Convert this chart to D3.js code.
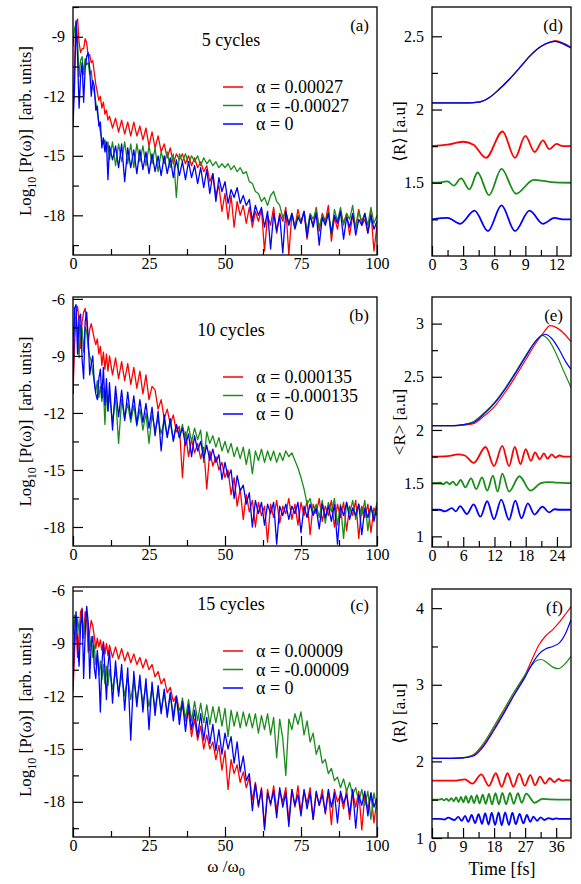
<!DOCTYPE html>
<html>
<head>
<meta charset="utf-8">
<script src="https://cdn.jsdelivr.net/npm/d3@7"></script>
<style>
  body { margin: 0; background: #fff; }
  svg text { font-family: "Liberation Serif", "Times New Roman", Tinos, "DejaVu Serif", serif; fill: #000; }
</style>
</head>
<body>
<div id="chart"></div>
<script>
// ---------- data ----------
// spectra are sampled at 0..12 (step 0.5) then 13..100 (step 1)
const omegaGrid = d3.range(0, 12.5, 0.5).concat(d3.range(13, 101, 1));

// (a) 5 cycles
const specA_red = [
  -13.0,-10.5,-8.3,-8.1,-9.3,-9.8,-9.6,-9.6,-9.1,-9.3,-10.0,-9.9,-10.3,-10.2,-10.8,-11.4,-11.8,-12.2,-12.0,-12.6,-12.3,-12.9,-12.7,-13.2,-13.0,
  -13.6,-13.1,-13.8,-13.2,-13.9,-13.3,-14.0,-13.3,-14.0,-13.5,
  -14.2,-13.6,-14.5,-13.8,-14.6,-14.0,-14.8,-14.4,-15.1,-14.6,
  -15.4,-14.9,-15.2,-14.9,-15.4,-15.0,-15.5,-15.1,-15.6,-15.3,
  -15.8,-15.5,-16.3,-15.9,-17.0,-16.5,-17.8,-16.9,-18.2,-17.0,
  -18.6,-17.3,-18.0,-17.5,-18.4,-17.6,-18.6,-17.8,-18.3,-17.7,
  -19.8,-18.0,-18.5,-17.6,-18.9,-17.9,-18.3,-17.6,-20.0,-17.9,
  -18.6,-17.7,-18.4,-17.8,-19.2,-18.0,-18.5,-17.6,-18.8,-17.9,
  -18.3,-17.5,-19.3,-18.1,-18.7,-17.8,-18.4,-17.9,-19.0,-18.0,
  -18.6,-17.7,-18.5,-18.2,-18.9,-17.8,-19.8,-18.5
];
const specA_green = [
  -9.5,-8.6,-8.3,-9.2,-11.0,-10.2,-10.0,-10.9,-10.1,-10.4,-10.3,-10.9,-10.7,-11.5,-11.8,-12.3,-12.8,-13.3,-13.8,-14.2,-14.4,-14.2,-14.8,-14.3,-15.2,
  -14.3,-15.5,-14.4,-15.3,-14.3,-15.4,-14.4,-15.6,-14.4,-15.3,
  -14.5,-15.5,-14.5,-15.4,-14.6,-15.8,-14.8,-15.4,-14.8,-15.6,
  -14.9,-17.1,-14.9,-15.3,-14.9,-15.4,-15.0,-15.3,-15.0,-15.5,
  -15.1,-15.4,-15.2,-15.5,-15.3,-15.6,-15.4,-15.6,-15.4,-15.7,
  -15.5,-15.8,-15.6,-15.9,-15.8,-16.3,-16.4,-16.8,-16.9,-17.3,
  -17.1,-17.5,-17.0,-16.8,-17.3,-17.5,-18.1,-17.8,-18.4,-17.9,
  -18.6,-18.0,-18.3,-17.8,-18.8,-17.9,-18.2,-17.7,-18.6,-18.0,
  -18.4,-17.8,-19.0,-17.7,-18.3,-17.6,-18.5,-17.9,-18.2,-17.5,
  -18.7,-17.8,-18.3,-17.9,-18.5,-17.6,-18.4,-18.0
];
const specA_blue = [
  -13.5,-11.5,-8.2,-10.0,-12.6,-11.0,-10.3,-12.3,-10.6,-10.0,-9.8,-10.6,-12.0,-11.2,-11.5,-12.7,-12.5,-13.5,-13.3,-14.6,-14.1,-14.8,-14.3,-16.2,-14.5,
  -15.2,-14.5,-15.6,-14.4,-16.3,-14.6,-15.6,-14.7,-15.9,-14.7,
  -15.7,-14.8,-15.9,-14.9,-15.8,-15.0,-16.0,-15.0,-15.9,-15.1,
  -16.1,-15.2,-16.0,-15.3,-16.2,-15.3,-16.1,-15.5,-16.4,-15.6,
  -16.6,-15.7,-16.9,-15.9,-17.3,-16.1,-16.8,-16.3,-17.4,-16.7,
  -17.1,-16.6,-17.4,-17.0,-17.5,-17.2,-18.3,-17.5,-18.0,-17.6,
  -18.6,-17.8,-19.7,-17.9,-18.8,-18.0,-19.9,-17.8,-18.5,-17.9,
  -18.7,-18.1,-18.4,-17.8,-19.1,-18.0,-18.6,-17.9,-19.5,-18.1,
  -18.5,-17.9,-18.9,-18.0,-18.4,-17.8,-19.2,-18.1,-18.6,-17.9,
  -19.0,-18.2,-18.5,-17.9,-18.9,-18.0,-18.7,-18.3
];

// (b) 10 cycles
const specB_red = [
  -11.0,-8.5,-6.8,-6.4,-7.2,-8.6,-7.2,-6.7,-6.5,-7.2,-8.3,-7.6,-7.3,-7.7,-8.1,-8.4,-8.1,-8.9,-8.5,-9.5,-8.8,-9.7,-8.9,-9.8,-9.0,
  -10.0,-9.1,-10.2,-9.3,-10.3,-9.4,-10.5,-9.6,-10.7,-9.8,
  -11.0,-10.0,-11.3,-10.6,-10.8,-11.8,-11.3,-12.3,-11.8,-12.6,
  -12.1,-13.0,-12.7,-15.4,-13.0,-14.3,-13.4,-14.1,-13.6,-14.4,
  -13.8,-16.0,-14.0,-14.8,-14.3,-15.0,-14.6,-15.4,-15.0,-16.3,
  -15.4,-16.9,-16.0,-17.6,-16.3,-17.2,-16.6,-18.0,-16.7,-17.4,
  -16.9,-18.8,-16.8,-17.5,-16.6,-17.8,-16.9,-17.3,-16.5,-17.6,
  -16.8,-17.9,-16.7,-17.4,-16.6,-18.4,-16.8,-17.3,-16.5,-17.7,
  -16.9,-17.4,-16.6,-18.0,-16.8,-17.5,-16.7,-18.2,-16.9,-17.4,
  -16.6,-18.6,-16.9,-17.5,-16.8,-18.3,-17.0,-17.4
];
const specB_green = [
  -8.0,-7.3,-6.9,-7.8,-9.1,-7.4,-7.6,-8.8,-7.5,-7.7,-8.6,-9.0,-9.3,-9.9,-10.3,-10.9,-10.3,-11.2,-10.6,-11.4,-10.7,-12.6,-10.8,-11.9,-11.0,
  -12.5,-11.1,-13.6,-11.3,-12.3,-11.5,-12.5,-11.6,-12.7,-11.8,
  -12.9,-12.0,-13.6,-12.1,-12.9,-12.3,-13.1,-12.4,-13.2,-12.5,
  -13.4,-12.6,-13.3,-12.6,-13.4,-12.7,-13.5,-12.8,-13.4,-12.9,
  -14.6,-13.0,-13.6,-13.2,-13.8,-13.3,-14.0,-13.5,-14.1,-13.6,
  -14.3,-13.8,-14.4,-13.8,-14.7,-13.9,-15.2,-14.0,-14.5,-13.9,
  -14.6,-14.0,-14.5,-14.0,-14.6,-14.1,-14.5,-14.0,-14.3,-14.1,
  -14.5,-14.9,-15.4,-16.0,-16.8,-16.5,-17.3,-16.8,-17.5,-16.6,
  -17.8,-16.7,-17.2,-16.5,-17.9,-16.8,-18.6,-16.7,-17.3,-16.6,
  -17.6,-16.8,-17.4,-16.6,-18.2,-16.9,-17.5,-16.7
];
const specB_blue = [
  -11.0,-6.5,-6.3,-8.9,-7.0,-6.8,-9.2,-10.2,-7.2,-6.7,-8.1,-10.0,-9.4,-9.0,-10.4,-11.0,-11.3,-10.2,-9.7,-11.2,-9.6,-11.6,-10.2,-11.9,-10.4,
  -12.9,-10.6,-12.2,-10.8,-12.4,-10.9,-12.3,-11.1,-12.6,-11.3,
  -12.5,-11.5,-12.8,-11.7,-13.2,-11.9,-14.0,-12.1,-13.3,-12.3,
  -13.5,-12.6,-13.3,-12.8,-13.7,-13.1,-14.3,-13.2,-14.0,-13.5,
  -14.4,-13.7,-14.5,-13.9,-14.6,-14.2,-15.5,-14.6,-15.4,-15.0,
  -16.5,-15.3,-16.1,-15.8,-16.8,-16.2,-18.0,-16.6,-17.3,-16.7,
  -17.9,-16.8,-17.3,-16.7,-18.9,-16.9,-17.4,-16.8,-17.6,-16.9,
  -17.3,-16.7,-18.3,-16.9,-17.5,-16.8,-17.4,-17.0,-18.1,-16.8,
  -17.5,-16.9,-17.7,-16.8,-18.9,-16.9,-17.4,-16.7,-17.6,-17.0,
  -17.4,-16.8,-18.4,-17.0,-17.5,-16.9,-17.7,-16.9
];

// (c) 15 cycles
const specC_red = [
  -11.8,-9.5,-8.0,-9.8,-8.5,-7.2,-7.0,-8.7,-7.2,-7.6,-9.5,-8.3,-7.7,-8.0,-8.6,-9.3,-8.7,-9.2,-8.8,-9.4,-8.9,-9.6,-9.0,-9.7,-9.1,
  -9.8,-9.2,-9.9,-9.3,-10.0,-9.5,-10.1,-9.6,-10.2,-9.8,
  -10.4,-9.9,-10.5,-10.2,-10.9,-10.6,-11.3,-11.0,-11.8,-11.5,
  -12.3,-12.0,-12.8,-12.5,-13.4,-12.9,-14.3,-13.3,-14.5,-13.7,
  -15.0,-14.2,-15.0,-14.6,-15.6,-14.8,-16.2,-15.1,-17.3,-15.6,
  -16.4,-15.9,-16.9,-16.3,-17.2,-16.6,-17.9,-16.9,-18.3,-17.2,
  -19.4,-17.3,-18.2,-17.1,-18.5,-17.4,-18.0,-17.2,-19.1,-17.3,
  -18.3,-17.1,-18.6,-17.4,-18.1,-17.2,-19.0,-17.5,-18.2,-17.3,
  -18.7,-17.4,-19.3,-17.3,-18.0,-17.6,-18.4,-17.3,-19.0,-17.5,
  -18.3,-17.4,-19.6,-17.6,-18.4,-17.5,-19.2,-17.8
];
const specC_green = [
  -8.5,-7.4,-8.6,-7.6,-8.3,-7.9,-7.5,-8.6,-7.8,-7.3,-8.2,-9.4,-8.6,-9.8,-9.1,-10.2,-9.6,-10.8,-10.0,-11.1,-10.2,-11.3,-10.3,-11.4,-10.5,
  -11.6,-10.6,-11.8,-10.8,-12.0,-10.9,-12.2,-11.1,-12.3,-11.2,
  -12.4,-11.4,-12.6,-11.5,-12.7,-11.7,-12.8,-11.8,-13.0,-11.9,
  -13.1,-12.0,-13.2,-12.1,-13.3,-12.2,-13.4,-12.3,-13.4,-12.4,
  -13.5,-12.5,-13.6,-12.6,-13.5,-12.6,-13.7,-12.7,-14.3,-12.8,
  -13.7,-12.9,-13.8,-12.9,-13.7,-13.0,-13.8,-13.0,-14.1,-13.1,
  -13.9,-13.0,-14.2,-13.2,-15.5,-13.3,-14.4,-16.5,-13.3,-13.9,
  -13.0,-13.6,-12.9,-14.2,-13.4,-14.6,-14.1,-15.3,-14.8,-15.8,
  -15.6,-16.4,-16.1,-16.8,-16.6,-17.2,-16.7,-17.4,-16.9,-17.6,
  -17.2,-18.0,-17.3,-18.2,-17.4,-19.0,-17.5,-18.4
];
const specC_blue = [
  -11.5,-8.5,-7.2,-9.0,-10.3,-8.0,-7.1,-11.0,-8.5,-6.9,-7.8,-11.0,-9.0,-8.6,-10.4,-11.0,-9.4,-10.6,-12.9,-10.2,-9.0,-10.5,-12.2,-10.3,-9.4,
  -12.4,-10.0,-12.0,-10.2,-12.8,-10.4,-14.5,-10.6,-12.6,-10.8,
  -12.9,-11.0,-13.9,-11.2,-13.1,-11.4,-13.0,-11.6,-13.2,-11.8,
  -13.4,-12.0,-13.6,-12.3,-14.0,-12.5,-13.9,-12.8,-14.3,-13.0,
  -14.5,-13.2,-14.7,-13.6,-15.1,-13.9,-15.3,-14.1,-15.0,-14.3,
  -15.8,-14.6,-16.3,-15.4,-16.8,-16.4,-18.5,-17.0,-18.2,-17.3,
  -19.6,-17.5,-18.1,-17.4,-18.9,-17.2,-18.3,-17.5,-19.4,-17.3,
  -18.2,-17.6,-18.8,-17.3,-18.4,-17.5,-19.0,-17.4,-18.2,-17.6,
  -18.6,-17.3,-18.3,-17.5,-19.2,-17.4,-18.1,-17.6,-18.7,-17.3,
  -19.5,-17.6,-18.2,-17.4,-18.8,-17.5,-18.3,-17.8
];

// (d) <R>, 5 cycles : [time fs, R a.u.]
const rD_red_big   = [[0,2.045],[3.5,2.045],[4.5,2.05],[5.5,2.08],[6.5,2.14],[7.5,2.21],[8.5,2.29],[9.5,2.37],[10.5,2.43],[11.4,2.46],[11.9,2.47],[12.6,2.455],[13.4,2.425]];
const rD_green_big = [[0,2.045],[3.5,2.045],[4.5,2.05],[5.5,2.08],[6.5,2.14],[7.5,2.21],[8.5,2.29],[9.5,2.37],[10.5,2.43],[11.4,2.46],[11.9,2.465],[12.6,2.45],[13.4,2.42]];
const rD_blue_big  = [[0,2.045],[3.5,2.045],[4.5,2.05],[5.5,2.08],[6.5,2.14],[7.5,2.21],[8.5,2.29],[9.5,2.37],[10.5,2.43],[11.4,2.46],[11.9,2.465],[12.6,2.45],[13.4,2.42]];
const rD_red   = [[0,1.75],[1.5,1.76],[3.0,1.78],[4.0,1.76],[5.2,1.67],[6.8,1.85],[8.0,1.67],[9.0,1.82],[9.9,1.71],[10.7,1.79],[11.3,1.73],[12.0,1.765],[12.6,1.75],[13.4,1.75]];
const rD_green = [[0,1.5],[1.0,1.505],[1.5,1.51],[2.1,1.48],[2.8,1.53],[3.6,1.455],[4.4,1.57],[5.5,1.415],[6.7,1.595],[8.1,1.425],[9.8,1.52],[11.5,1.505],[13.4,1.5]];
const rD_blue  = [[0,1.25],[1.5,1.26],[2.7,1.22],[4.1,1.31],[5.4,1.17],[6.7,1.345],[8.0,1.17],[9.4,1.31],[10.7,1.22],[11.8,1.26],[12.6,1.25],[13.4,1.25]];

// (e) <R>, 10 cycles
const rE_red_big   = [[0,2.04],[4,2.04],[6,2.045],[8,2.06],[10,2.13],[12,2.22],[14,2.35],[16,2.5],[18,2.66],[20,2.82],[21.5,2.92],[22.7,2.98],[24,2.96],[25.5,2.9],[26.7,2.83]];
const rE_green_big = [[0,2.04],[4,2.04],[6,2.05],[8,2.08],[10,2.16],[12,2.26],[14,2.39],[16,2.54],[18,2.7],[20,2.84],[21.1,2.89],[22.5,2.84],[24,2.7],[25.5,2.53],[26.7,2.4]];
const rE_blue_big  = [[0,2.04],[4,2.04],[6,2.05],[8,2.07],[10,2.15],[12,2.25],[14,2.38],[16,2.53],[18,2.69],[20,2.84],[21.7,2.9],[23,2.86],[24.5,2.75],[25.7,2.64],[26.7,2.57]];
const rE_red   = [[0,1.75],[3,1.755],[5,1.77],[6.3,1.76],[8.0,1.69],[10.3,1.84],[11.9,1.66],[13.5,1.85],[14.8,1.66],[15.9,1.84],[17.0,1.68],[18.0,1.82],[19.0,1.71],[19.8,1.79],[20.7,1.725],[21.5,1.78],[22.2,1.73],[23.0,1.77],[23.7,1.74],[24.5,1.76],[25.3,1.75],[26.7,1.75]];
const rE_green = [[0,1.5],[1.6,1.505],[2.2,1.49],[2.8,1.51],[3.4,1.49],[4.0,1.515],[4.7,1.48],[5.5,1.53],[6.4,1.46],[7.5,1.545],[8.5,1.445],[9.6,1.555],[10.6,1.43],[11.7,1.57],[12.6,1.42],[13.5,1.59],[14.8,1.42],[16.8,1.565],[18.9,1.43],[20.9,1.5],[22.3,1.51],[24,1.505],[26.7,1.5]];
const rE_blue  = [[0,1.25],[1.5,1.25],[2.5,1.235],[3.8,1.265],[4.6,1.235],[5.4,1.285],[6.7,1.21],[8.0,1.3],[9.3,1.185],[10.6,1.33],[11.9,1.16],[13.3,1.345],[14.8,1.155],[16.0,1.335],[17.2,1.17],[18.4,1.31],[19.7,1.205],[21.2,1.28],[22.5,1.225],[23.5,1.255],[24.5,1.25],[26.7,1.25]];

// (f) <R>, 15 cycles
const rF_red_big   = [[0,2.04],[6,2.04],[9,2.045],[12,2.08],[15,2.22],[18,2.43],[21,2.66],[24,2.89],[27,3.13],[29,3.33],[31,3.52],[33,3.64],[35,3.72],[37,3.82],[39,3.94],[40.3,4.02]];
const rF_green_big = [[0,2.04],[6,2.04],[9,2.05],[12,2.09],[15,2.24],[18,2.46],[21,2.69],[24,2.92],[27,3.13],[29,3.26],[30.5,3.32],[31.7,3.33],[33,3.3],[35,3.23],[36.6,3.21],[38.5,3.27],[40.3,3.37]];
const rF_blue_big  = [[0,2.04],[6,2.04],[9,2.045],[12,2.07],[15,2.2],[18,2.41],[21,2.64],[24,2.88],[27,3.1],[29,3.27],[31,3.4],[33,3.47],[35,3.5],[37,3.55],[38.5,3.65],[40.3,3.85]];
const rF_red   = [[0,1.75],[7,1.75],[9.5,1.765],[11.7,1.71],[14.3,1.83],[16.5,1.68],[18.5,1.845],[20.2,1.67],[21.9,1.845],[23.6,1.67],[25.3,1.84],[26.9,1.68],[28.5,1.82],[29.9,1.69],[31.3,1.8],[32.8,1.71],[34.1,1.78],[35.5,1.73],[36.7,1.77],[37.8,1.745],[38.8,1.755],[40.3,1.75]];
const rF_green = [[0,1.5],[2,1.5],[2.8,1.51],[3.5,1.49],[4.2,1.515],[4.9,1.485],[5.6,1.52],[6.3,1.48],[7.0,1.53],[7.7,1.47],[8.4,1.535],[9.1,1.465],[9.8,1.545],[10.6,1.46],[11.4,1.55],[12.2,1.455],[13.0,1.56],[13.8,1.45],[14.7,1.565],[15.6,1.445],[16.5,1.575],[17.4,1.44],[18.4,1.585],[19.4,1.44],[20.4,1.59],[21.5,1.44],[22.6,1.59],[23.7,1.445],[24.9,1.585],[26.0,1.46],[27.3,1.58],[29.8,1.46],[32,1.51],[34,1.505],[40.3,1.5]];
const rF_blue  = [[0,1.25],[2.3,1.25],[3.5,1.24],[4.7,1.265],[6.5,1.235],[7.6,1.275],[8.6,1.225],[9.6,1.29],[10.5,1.21],[11.5,1.3],[12.5,1.195],[13.5,1.31],[14.5,1.185],[15.4,1.325],[16.4,1.175],[17.3,1.33],[18.3,1.17],[19.3,1.335],[20.2,1.165],[21.2,1.335],[22.3,1.17],[23.3,1.33],[24.3,1.18],[25.4,1.315],[26.5,1.19],[27.5,1.3],[28.5,1.21],[29.4,1.28],[30.5,1.225],[31.5,1.27],[32.6,1.235],[33.8,1.26],[35.0,1.245],[35.9,1.255],[37,1.25],[40.3,1.25]];

const alphaA = ["0.00027", "-0.00027", "0"];
const alphaB = ["0.000135", "-0.000135", "0"];
const alphaC = ["0.00009", "-0.00009", "0"];

const specTicks = [-6, -9, -12, -15, -18];
const specMinor = [-7.5, -10.5, -13.5, -16.5, -19.5];
const omegaTicks = [0, 25, 50, 75, 100];
const omegaMinor = [12.5, 37.5, 62.5, 87.5];

// ---------- drawing ----------
const RED = "#ff0000", GREEN = "#1a8c1a", BLUE = "#0000ff";
const colors = [RED, GREEN, BLUE];
const SERIF = "'Liberation Serif', 'Times New Roman', Tinos, 'DejaVu Serif', serif";

const svg = d3.select("#chart").append("svg")
    .attr("width", 581)
    .attr("height", 884)
    .attr("font-family", SERIF);

function drawPanel(p) {
    const x = d3.scaleLinear().domain(p.xDomain).range([p.left, p.right]);
    const y = d3.scaleLinear().domain(p.yDomain).range([p.bottom, p.top]);
    const g = svg.append("g");

    g.append("clipPath").attr("id", "clip-" + p.id)
        .append("rect")
        .attr("x", p.left).attr("y", p.top)
        .attr("width", p.right - p.left).attr("height", p.bottom - p.top);

    const plot = g.append("g").attr("clip-path", `url(#clip-${p.id})`);
    p.series.forEach(s => {
        const line = d3.line()
            .x(d => x(d[0]))
            .y(d => y(d[1]))
            .curve(p.curve);
        plot.append("path")
            .datum(s.points)
            .attr("fill", "none")
            .attr("stroke", s.color)
            .attr("stroke-width", s.width)
            .attr("stroke-linejoin", "round")
            .attr("d", line);
    });

    // minor ticks
    g.append("g").attr("transform", `translate(0,${p.bottom})`)
        .call(d3.axisBottom(x).tickValues(p.xMinor).tickSize(-6).tickFormat(""));
    g.append("g").attr("transform", `translate(${p.left},0)`)
        .call(d3.axisLeft(y).tickValues(p.yMinor).tickSize(-6).tickFormat(""));
    // major ticks + labels
    g.append("g").attr("transform", `translate(0,${p.bottom})`)
        .call(d3.axisBottom(x).tickValues(p.xTicks).tickSize(-10).tickPadding(3).tickFormat(d => String(d)));
    g.append("g").attr("transform", `translate(${p.left},0)`)
        .call(d3.axisLeft(y).tickValues(p.yTicks).tickSize(-10).tickPadding(8).tickFormat(d => String(d)));

    g.selectAll(".domain").remove();
    g.selectAll(".tick line").attr("stroke", "#000").attr("stroke-width", 1.2);
    g.selectAll("g").attr("font-family", SERIF).attr("font-size", 16);
    g.selectAll(".tick text").attr("fill", "#000");

    g.append("rect")
        .attr("x", p.left).attr("y", p.top)
        .attr("width", p.right - p.left).attr("height", p.bottom - p.top)
        .attr("fill", "none")
        .attr("stroke", "#000")
        .attr("stroke-width", 1.3);

    g.append("text")
        .attr("x", p.right - 8).attr("y", p.top + 24)
        .attr("text-anchor", "end")
        .attr("font-size", 17)
        .text(p.tag);

    return { x, y, g };
}

function specPanel(id, tag, top, bottom, yDomain, red, green, blue, cyclesText, alphas, legendTop) {
    const pts = arr => omegaGrid.map((w, i) => [w, arr[i]]);
    const p = drawPanel({
        id, tag,
        left: 73, right: 377, top, bottom,
        xDomain: [0, 100], yDomain,
        xTicks: omegaTicks, xMinor: omegaMinor,
        yTicks: specTicks.filter(v => v <= yDomain[1] + 0.01 && v >= yDomain[0]),
        yMinor: specMinor.filter(v => v <= yDomain[1] && v >= yDomain[0]),
        curve: d3.curveLinear,
        series: [
            { points: pts(red), color: RED, width: 1.3 },
            { points: pts(green), color: GREEN, width: 1.3 },
            { points: pts(blue), color: BLUE, width: 1.3 }
        ]
    });

    p.g.append("text")
        .attr("x", 231).attr("y", legendTop - 41)
        .attr("text-anchor", "middle")
        .attr("font-size", 18)
        .text(cyclesText);

    alphas.forEach((a, i) => {
        const yy = legendTop + i * 18.5;
        p.g.append("line")
            .attr("x1", 223).attr("x2", 243)
            .attr("y1", yy).attr("y2", yy)
            .attr("stroke", colors[i]).attr("stroke-width", 1.5);
        p.g.append("text")
            .attr("x", 256).attr("y", yy)
            .attr("dy", "0.35em")
            .attr("font-size", 18)
            .text("\u03b1 = " + a);
    });

    // y label
    const cy = (top + bottom) / 2;
    const lab = p.g.append("text")
        .attr("transform", `translate(31,${cy}) rotate(-90)`)
        .attr("text-anchor", "middle")
        .attr("font-size", 17);
    lab.append("tspan").text("Log");
    lab.append("tspan").attr("font-size", 12).attr("dy", 5).text("10");
    lab.append("tspan").attr("dy", -5).text(" [P(\u03c9)]\u00a0\u00a0[arb. units]");
}

specPanel("a", "(a)", 7, 255, [-20, -7.5], specA_red, specA_green, specA_blue, "5 cycles", alphaA, 87);
specPanel("b", "(b)", 297, 546, [-19, -5.9], specB_red, specB_green, specB_blue, "10 cycles", alphaB, 377);
specPanel("c", "(c)", 587, 837, [-20, -5.8], specC_red, specC_green, specC_blue, "15 cycles", alphaC, 651);

function rPanel(id, tag, top, bottom, xDomain, yDomain, xTicks, xMinor, yTicks, yMinor, big, osc, labelText) {
    const series = [];
    big.forEach((b, i) => series.push({ points: b, color: colors[i], width: 1.2 }));
    osc.forEach((o, i) => series.push({ points: o, color: colors[i], width: 1.8 }));
    const p = drawPanel({
        id, tag, left: 432, right: 571, top, bottom,
        xDomain, yDomain, xTicks, xMinor, yTicks, yMinor,
        curve: d3.curveMonotoneX,
        series
    });
    p.g.append("text")
        .attr("transform", `translate(405,${(top + bottom) / 2}) rotate(-90)`)
        .attr("text-anchor", "middle")
        .attr("font-size", 17)
        .text(labelText);
}

rPanel("d", "(d)", 7, 256, [0, 13.4], [1, 2.7],
    [0, 3, 6, 9, 12], [1.5, 4.5, 7.5, 10.5],
    [1.5, 2, 2.5], [1.25, 1.75, 2.25],
    [rD_red_big, rD_green_big, rD_blue_big], [rD_red, rD_green, rD_blue],
    "\u27e8R\u27e9 [a.u]");
rPanel("e", "(e)", 297, 547, [0, 26.7], [0.9, 3.25],
    [0, 6, 12, 18, 24], [3, 9, 15, 21],
    [1, 1.5, 2, 2.5, 3], [1.25, 1.75, 2.25, 2.75],
    [rE_red_big, rE_green_big, rE_blue_big], [rE_red, rE_green, rE_blue],
    "<R> [a.u]");
rPanel("f", "(f)", 589, 838, [0, 40.3], [1, 4.25],
    [0, 9, 18, 27, 36], [4.5, 13.5, 22.5, 31.5],
    [1, 2, 3, 4], [1.5, 2.5, 3.5],
    [rF_red_big, rF_green_big, rF_blue_big], [rF_red, rF_green, rF_blue],
    "\u27e8R\u27e9 [a.u]");

// x-axis titles
const xl = svg.append("text")
    .attr("x", 226).attr("y", 872)
    .attr("text-anchor", "middle")
    .attr("font-size", 17);
xl.append("tspan").text("\u03c9 /\u03c9");
xl.append("tspan").attr("font-size", 12).attr("dy", 4).text("0");

svg.append("text")
    .attr("x", 502).attr("y", 875)
    .attr("text-anchor", "middle")
    .attr("font-size", 18)
    .text("Time [fs]");
</script>
</body>
</html>
